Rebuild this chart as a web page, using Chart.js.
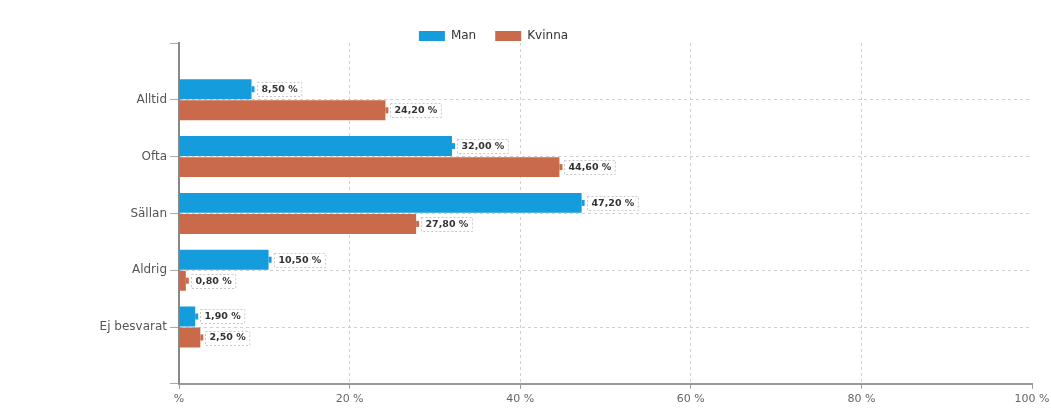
<!DOCTYPE html><html>
<meta charset="UTF-8">
<script src="https://cdn.jsdelivr.net/npm/chart.js@4/dist/chart.umd.min.js"></script>
<style>
 html,body{margin:0;padding:0;background:#fff;overflow:hidden}
 #wrap{width:1051px;height:410px}
</style>
<div id="wrap"><canvas id="c"></canvas></div>
<script>
// answers per category
var categories = ['Alltid', 'Ofta', 'Sällan', 'Aldrig', 'Ej besvarat'];
var man    = [8.5, 32.0, 47.2, 10.5, 1.9];
var kvinna = [24.2, 44.6, 27.8, 0.8, 2.5];
var xTicks = [0, 20, 40, 60, 80, 100];

var BLUE = '#149cdd', RED = '#c96a4a';

// empty slot above and below, like the original
function pad(a){ return [null].concat(a, [null]); }

var valueBoxes = {
  id: 'valueBoxes',
  afterDatasetsDraw: function(chart){
    var ctx = chart.ctx;
    ctx.save();
    ctx.font = 'bold 9.5px "DejaVu Sans"';
    ctx.textBaseline = 'middle';
    chart.data.datasets.forEach(function(ds, di){
      var meta = chart.getDatasetMeta(di);
      meta.data.forEach(function(bar, i){
        var v = ds.data[i];
        if (v === null) return;
        var x = bar.x, y = bar.y;
        ctx.fillStyle = ds.backgroundColor;
        ctx.fillRect(x, y - 3, 3, 6);
        var txt = v.toFixed(2).replace('.', ',') + ' %';
        var w = ctx.measureText(txt).width + 8;
        var bx = Math.round(x + 5) + 0.5, by = Math.round(y - 7) + 0.5;
        ctx.fillStyle = '#fff';
        ctx.fillRect(bx, by, w, 14);
        ctx.setLineDash([2, 2]);
        ctx.strokeStyle = '#c8c8c8';
        ctx.lineWidth = 1;
        ctx.strokeRect(bx, by, w, 14);
        ctx.setLineDash([]);
        ctx.fillStyle = '#333';
        ctx.fillText(txt, bx + 4, y + 0.5);
      });
    });
    ctx.restore();
  }
};

// legend sits a bit left of centre and lower in the original
var legendNudge = {
  id: 'legendNudge',
  afterLayout: function(chart){
    var lg = chart.legend;
    lg.left -= 32; lg.right -= 32;
    lg.top += 9; lg.bottom += 9;
  }
};

new Chart(document.getElementById('c'), {
  type: 'bar',
  data: {
    labels: pad(categories).map(function(c){ return c === null ? '' : c; }),
    datasets: [
      {label: 'Man', data: pad(man), backgroundColor: BLUE},
      {label: 'Kvinna', data: pad(kvinna), backgroundColor: RED}
    ]
  },
  options: {
    indexAxis: 'y',
    responsive: true,
    maintainAspectRatio: false,
    animation: false,
    events: [],
    categoryPercentage: 0.74,
    barPercentage: 0.95,
    layout: {padding: {left: 0, top: 2, right: 0, bottom: 0}},
    plugins: {
      tooltip: {enabled: false},
      legend: {
        position: 'top',
        labels: {
          boxWidth: 26, boxHeight: 10, padding: 19,
          color: '#333', font: {family: 'DejaVu Sans', size: 12}
        }
      }
    },
    scales: {
      x: {
        min: 0, max: 100,
        afterBuildTicks: function(s){ s.ticks = xTicks.map(function(v){ return {value: v}; }); },
        afterFit: function(s){ s.paddingRight = 19; },
        ticks: {
          color: '#666', font: {family: 'DejaVu Sans', size: 11}, padding: 4,
          maxRotation: 0,
          callback: function(v){ return v === 0 ? '%' : v + ' %'; }
        },
        grid: {
          color: function(c){ return (c.index === 0 || c.index === xTicks.length - 1) ? 'rgba(0,0,0,0)' : '#d0d0d0'; },
          tickColor: '#999', tickLength: 5, tickBorderDash: []
        },
        border: {color: '#999', width: 2, dash: [3, 3]}
      },
      y: {
        offset: false,
        afterFit: function(s){ s.width = 179; },
        ticks: {color: '#555', font: {family: 'DejaVu Sans', size: 12}, padding: 3, autoSkip: false},
        grid: {
          offset: false,
          color: function(c){ return (c.index === 0 || c.index === categories.length + 1) ? 'rgba(0,0,0,0)' : '#d0d0d0'; },
          tickColor: '#aaa', tickLength: 9, tickBorderDash: []
        },
        border: {color: '#888', width: 2, dash: [3, 3]}
      }
    }
  },
  plugins: [valueBoxes, legendNudge]
});
</script>
</html>
